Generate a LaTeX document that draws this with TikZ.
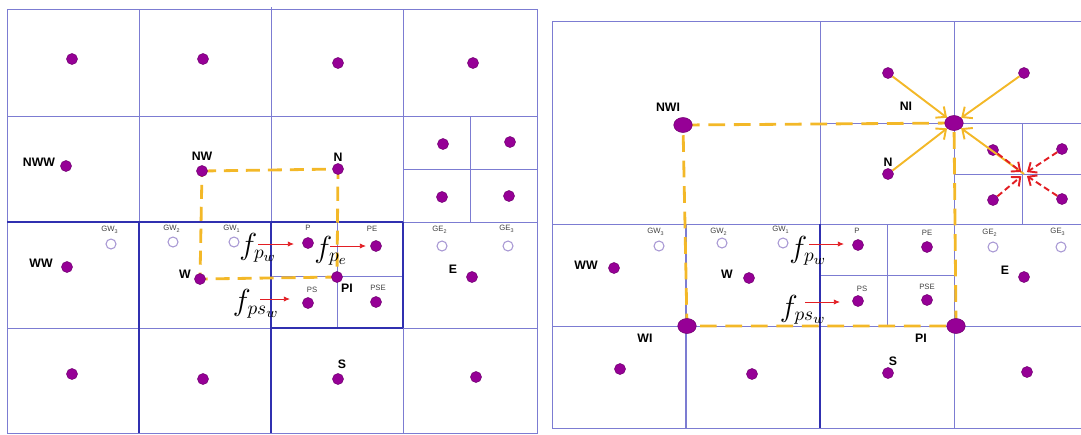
\documentclass[tikz,border=0pt]{standalone}
\usepackage{fontspec}
\setmainfont{Liberation Sans}
\usetikzlibrary{positioning,calc,arrows.meta,shapes.geometric}
\pgfdeclarelayer{background}
\pgfsetlayers{background,main}

\definecolor{gridblue}{RGB}{124,124,210}
\definecolor{deepblue}{RGB}{48,48,176}
\definecolor{cellpurple}{RGB}{150,0,150}
\definecolor{ghost}{RGB}{168,152,212}
\definecolor{amber}{RGB}{243,184,40}
\definecolor{fluxred}{RGB}{226,30,36}

\begin{document}
\begin{tikzpicture}[x=0.02cm, y=-0.02cm,
	grid/.style={draw=gridblue, line width=0.5pt},
	deepgrid/.style={draw=deepblue, line width=0.8pt},
	cell/.style={circle, fill=cellpurple, draw=cellpurple!75!black, line width=0.3pt, inner sep=0pt, minimum size=0.22cm},
	corner/.style={ellipse, fill=cellpurple, draw=cellpurple!75!black, line width=0.3pt, inner sep=0pt, minimum width=0.37cm, minimum height=0.3cm},
	ghostcell/.style={circle, draw=ghost, fill=white, line width=0.6pt, inner sep=0pt, minimum size=0.2cm},
	tag/.style={font=\bfseries\fontsize{7}{7}\selectfont, inner sep=0pt},
	minitag/.style={font=\fontsize{4.4}{5}\selectfont, text=black!75, inner sep=0pt},
	flux/.style={font=\fontsize{16}{16}\selectfont, inner sep=0pt},
	face/.style={-{Latex[length=3.5pt,width=3pt]}, fluxred, line width=0.5pt},
	ghostbox/.style={amber, line width=1.6pt},
	pull/.style={-{Straight Barb[length=4.5pt,width=8pt]}, amber, line width=1.1pt},
	push/.style={-{Straight Barb[length=4pt,width=7pt]}, fluxred, line width=1.1pt, dash pattern=on 3.5pt off 2pt, shorten >=2pt},
]
	\useasboundingbox (0,0) rectangle (1081,434);

	%%%% uniform mesh, one refined level
	\begin{pgfonlayer}{background}
		\draw[grid] (7,9) rectangle (537,433);
		\draw[grid] (139,9) -- (139,433) (271,7) -- (271,433) (403,9) -- (403,433);
		\draw[grid] (7,116) -- (537,116) (7,328) -- (537,328) (403,222) -- (537,222);
		\draw[grid] (470,116) -- (470,222) (403,169) -- (537,169);
		\draw[grid] (337,222) -- (337,328) (271,276) -- (403,276);
		\draw[deepgrid] (7,222) -- (403,222) (139,222) -- (139,433) (271,222) -- (271,433);
		\draw[deepgrid] (403,222) -- (403,328) (271,328) -- (403,328);
	\end{pgfonlayer}

	\node[cell] (a11) at (72,59) {};
	\node[cell] (a12) at (203,59) {};
	\node[cell] (a13) at (338,63) {};
	\node[cell] (a14) at (473,63) {};
	\node[cell] (nww) at (66,166) {};
	\node[cell] (nw) at (202,171) {};
	\node[cell] (n) at (338,169) {};
	\node[cell] (ne1) at (443,144) {};
	\node[cell] (ne2) at (510,142) {};
	\node[cell] (ne3) at (442,197) {};
	\node[cell] (ne4) at (509,196) {};
	\node[cell] (ww) at (67,267) {};
	\node[cell] (w) at (200,279) {};
	\node[cell] (p) at (308,243) {};
	\node[cell] (pe) at (376,246) {};
	\node[cell] (pi) at (337,277) {};
	\node[cell] (ps) at (308,303) {};
	\node[cell] (pse) at (376,302) {};
	\node[cell] (e) at (472,277) {};
	\node[cell] (a41) at (72,374) {};
	\node[cell] (a42) at (203,379) {};
	\node[cell] (s) at (338,379) {};
	\node[cell] (a44) at (476,377) {};

	\node[ghostcell] (gw3) at (111,244) {};
	\node[ghostcell] (gw2) at (173,242) {};
	\node[ghostcell] (gw1) at (234,242) {};
	\node[ghostcell] (ge2) at (442,246) {};
	\node[ghostcell] (ge3) at (508,246) {};

	\node[tag] (tnww) at (39,162) {NWW};
	\node[tag] (tnw) at (202,156) {NW};
	\node[tag] (tn) at (338,157) {N};
	\node[tag] (tww) at (41,263) {WW};
	\node[tag] (tw) at (185,274) {W};
	\node[tag] (te) at (453,269) {E};
	\node[tag] (ts) at (342,364) {S};
	\node[tag] (tpi) at (347,288) {PI};

	\node[minitag] (tgw3) at (110,230) {GW\textsubscript{3}};
	\node[minitag] (tgw2) at (172,229) {GW\textsubscript{2}};
	\node[minitag] (tgw1) at (232,229) {GW\textsubscript{1}};
	\node[minitag] (tp) at (308,228) {P};
	\node[minitag] (tpe) at (372,229) {PE};
	\node[minitag] (tps) at (312,290) {PS};
	\node[minitag] (tpse) at (378,288) {PSE};
	\node[minitag] (tge2) at (440,230) {GE\textsubscript{2}};
	\node[minitag] (tge3) at (507,229) {GE\textsubscript{3}};

	\node[flux] (fpw) at (258,248) {$f_{p_w}$};
	\node[flux] (fpe) at (331,251) {$f_{p_e}$};
	\node[flux] (fpsw) at (256,304) {$f_{ps_w}$};
	\coordinate (fpwbeg) at (258,244);
	\coordinate (fpwend) at (294,244);
	\coordinate (fpebeg) at (330,246);
	\coordinate (fpeend) at (366,246);
	\coordinate (fpswbeg) at (260,299);
	\coordinate (fpswend) at (290,299);
	\draw[face] (fpwbeg) -- (fpwend);
	\draw[face] (fpebeg) -- (fpeend);
	\draw[face] (fpswbeg) -- (fpswend);

	\begin{pgfonlayer}{background}
		\draw[ghostbox, dash pattern=on 8pt off 4.5pt] (nw.center) -- (n.center) -- (pi.center) -- (w.center) -- cycle;
	\end{pgfonlayer}

	%%%% coarse/fine interface
	\begin{pgfonlayer}{background}
		\draw[grid] (552,21) -- (1083,21) (552,21) -- (552,428) -- (1083,428);
		\draw[grid] (820,21) -- (820,224) (954,21) -- (954,428);
		\draw[grid] (552,224) -- (1083,224) (552,326) -- (1083,326) (820,123) -- (1083,123);
		\draw[grid] (1022,123) -- (1022,224) (954,174) -- (1083,174);
		\draw[grid] (887,224) -- (887,326) (820,275) -- (954,275);
		\draw[grid, line width=0.7pt] (686,224) -- (686,428);
		\draw[deepgrid] (820,224) -- (820,428);
	\end{pgfonlayer}

	\node[corner] (nwi) at (683,125) {};
	\node[corner] (ni) at (954,123) {};
	\node[corner] (wi) at (687,326) {};
	\node[corner] (rpi) at (956,326) {};

	\node[cell] (rn1) at (888,73) {};
	\node[cell] (rn2) at (1024,73) {};
	\node[cell] (rn) at (888,174) {};
	\node[cell] (rne1) at (993,150) {};
	\node[cell] (rne2) at (1062,149) {};
	\node[cell] (rne3) at (993,200) {};
	\node[cell] (rne4) at (1062,199) {};
	\node[cell] (rww) at (614,268) {};
	\node[cell] (rw) at (749,278) {};
	\node[cell] (rp) at (858,245) {};
	\node[cell] (rpe) at (927,247) {};
	\node[cell] (rps) at (858,301) {};
	\node[cell] (rpse) at (927,300) {};
	\node[cell] (re) at (1024,277) {};
	\node[cell] (b41) at (620,369) {};
	\node[cell] (b42) at (752,374) {};
	\node[cell] (rs) at (888,373) {};
	\node[cell] (b44) at (1027,372) {};

	\node[ghostcell] (rgw3) at (659,246) {};
	\node[ghostcell] (rgw2) at (722,243) {};
	\node[ghostcell] (rgw1) at (783,243) {};
	\node[ghostcell] (rge2) at (993,247) {};
	\node[ghostcell] (rge3) at (1061,247) {};

	\node[tag] (tnwi) at (668,107) {NWI};
	\node[tag] (tni) at (906,106) {NI};
	\node[tag] (trn) at (888,162) {N};
	\node[tag] (trww) at (586,265) {WW};
	\node[tag] (trw) at (727,274) {W};
	\node[tag] (tre) at (1005,270) {E};
	\node[tag] (twi) at (645,338) {WI};
	\node[tag] (trpi) at (921,338) {PI};
	\node[tag] (trs) at (893,361) {S};

	\node[minitag] (trgw3) at (656,232) {GW\textsubscript{3}};
	\node[minitag] (trgw2) at (719,232) {GW\textsubscript{2}};
	\node[minitag] (trgw1) at (781,230) {GW\textsubscript{1}};
	\node[minitag] (trp) at (857,231) {P};
	\node[minitag] (trpe) at (927,233) {PE};
	\node[minitag] (trps) at (862,289) {PS};
	\node[minitag] (trpse) at (927,287) {PSE};
	\node[minitag] (trge2) at (990,233) {GE\textsubscript{2}};
	\node[minitag] (trge3) at (1058,232) {GE\textsubscript{3}};

	\node[flux] (rfpw) at (808,251) {$f_{p_w}$};
	\node[flux] (rfpsw) at (803,310) {$f_{ps_w}$};
	\coordinate (rfpwbeg) at (809,244);
	\coordinate (rfpwend) at (844,244);
	\coordinate (rfpswbeg) at (805,302);
	\coordinate (rfpswend) at (840,302);
	\draw[face] (rfpwbeg) -- (rfpwend);
	\draw[face] (rfpswbeg) -- (rfpswend);

	\begin{pgfonlayer}{background}
		\draw[ghostbox, dash pattern=on 9.5pt off 5pt] (nwi.center) -- (ni.center) -- (rpi.center) -- (wi.center) -- cycle;
	\end{pgfonlayer}

	% fine cells pushed to the hub, then gathered at the corner
	\coordinate (hub) at (1024,174);
	\draw[pull] (rn1) -- (ni);
	\draw[pull] (rn2) -- (ni);
	\draw[pull] (rn) -- (ni);
	\draw[pull] (hub) -- (ni);
	\draw[push] (rne1) -- (hub);
	\draw[push] (rne2) -- (hub);
	\draw[push] (rne3) -- (hub);
	\draw[push] (rne4) -- (hub);
\end{tikzpicture}
\end{document}
